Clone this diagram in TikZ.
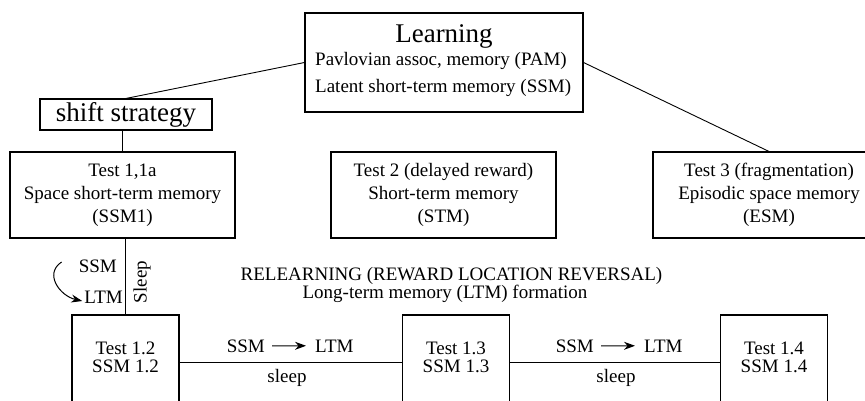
\documentclass[tikz,border=0pt]{standalone}
\usepackage{fontspec}
\setmainfont{Liberation Serif}
\usetikzlibrary{arrows.meta}
\newcommand\txtsize{\fontsize{19}{23}\selectfont}
\newcommand\bigsize{\fontsize{27}{30}\selectfont}

\begin{document}
\begin{tikzpicture}[x=1pt,y=-1pt,
  box/.style={draw,line width=1.1pt,inner sep=0pt,align=center,font=\txtsize},
  lbl/.style={inner sep=0pt,font=\txtsize},
  link/.style={line width=.9pt},
  arr/.style={line width=1pt,-{Stealth[length=11pt,width=8pt]}}]
  \useasboundingbox (0,0) rectangle (865,400);
  \clip (0,0) rectangle (865,400);

  % learning
  \node[box,minimum width=278pt,minimum height=99pt] (learn) at (444,62.5) {};
  \node[lbl,font=\bigsize,anchor=base] (learnT) at (444,42) {Learning};
  \node[lbl,anchor=base west] (pam) at (315,65) {Pavlovian assoc, memory (PAM)};
  \node[lbl,anchor=base west] (lssm) at (315,92) {Latent short-term memory (SSM)};

  \node[box,font=\bigsize,minimum width=172pt,minimum height=31pt] (shift) at (126,114.5) {shift strategy};

  % tests
  \node[box,minimum width=225pt,minimum height=86pt] (t1) at (122.5,195) {Test 1,1a\\Space short-term memory\\(SSM1)};
  \node[box,minimum width=225pt,minimum height=86pt] (t2) at (443.5,195) {Test 2 (delayed reward)\\Short-term memory\\(STM)};
  \node[box,minimum width=232pt,minimum height=86pt] (t3) at (769,195) {Test 3 (fragmentation)\\Episodic space memory\\(ESM)};

  \draw[link] (learn.west) -- (shift.north);
  \draw[link] (learn.east) -- (t3.north);
  \draw[link] (t1.north) -- (t1.north |- shift.south);

  % relearning
  \node[lbl,anchor=base] (relearn) at (451.5,280) {RELEARNING (REWARD LOCATION REVERSAL)};
  \node[lbl,anchor=base] (ltmform) at (445,298) {Long-term memory (LTM) formation};

  \foreach \n/\x in {2/125.5,3/456,4/774}{
    \node[box,minimum width=107pt,minimum height=94pt] (t1\n) at (\x,362) {};
    \node[lbl,anchor=base] (ta\n) at (\x,354) {Test 1.\n};
    \node[lbl,anchor=base] (tb\n) at (\x,372) {SSM 1.\n};
  }

  \draw[link] (t12.north) -- (t12.north |- t1.south);
  \node[lbl,anchor=base east] (ssmL) at (117,272) {SSM};
  \node[lbl,anchor=base east] (ltmL) at (123,303) {LTM};
  \node[lbl,rotate=90] (sleepV) at (142,282) {Sleep};
  \draw[arr] ([shift={(-17,-10)}]ssmL.base west) .. controls +(-18,12) and +(-22,-5) .. ([shift={(-2,-2)}]ltmL.base west);

  \foreach \a/\b/\c in {2/3/290,3/4/619}{
    \draw[link] (t1\a.east) -- (t1\b.west);
    \node[lbl,anchor=base east] (s\a) at (\c-25,352) {SSM};
    \node[lbl,anchor=base west] (l\a) at (\c+25,352) {LTM};
    \draw[arr,shorten <=7pt,shorten >=9pt] (s\a.east) -- (l\a.west);
    \node[lbl,anchor=base] (z\a) at (\c-3,382) {sleep};
  }
\end{tikzpicture}
\end{document}
